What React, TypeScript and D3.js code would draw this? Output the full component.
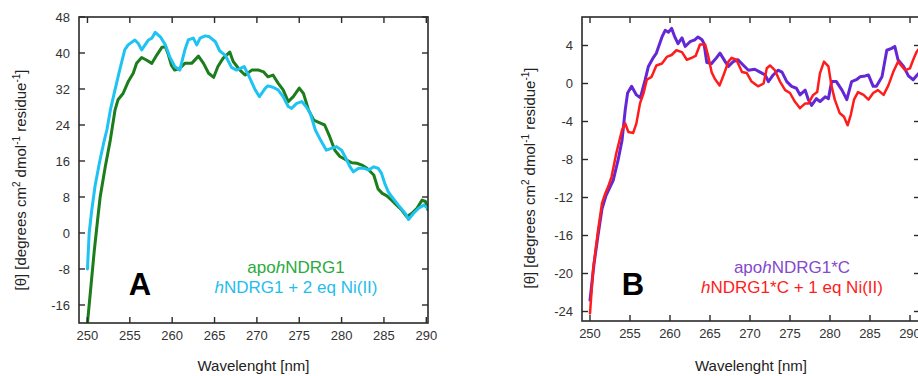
import React from "react";
import * as d3 from "d3";

// ---------- data ----------
const xTicks = [250, 255, 260, 265, 270, 275, 280, 285, 290];
const yTicksA = [48, 40, 32, 24, 16, 8, 0, -8, -16];
const yTicksB = [4, 0, -4, -8, -12, -16, -20, -24];

const apoA: [number, number][] = [
  [250.0, -20], [250.4, -12], [250.8, -4], [251.2, 3], [251.5, 8], [252.1, 14.7], [252.7, 20.7],
  [253.25, 27.3], [253.6, 29.6], [254.2, 31.0], [254.8, 33.6], [255.4, 35.5], [255.8, 37.7],
  [256.4, 39.0], [257.0, 38.4], [257.6, 37.7], [258.2, 39.6], [258.8, 41.3], [259.2, 41.4],
  [259.5, 39.9], [259.9, 37.3], [260.3, 36.2], [260.9, 36.6], [261.5, 37.7], [262.3, 37.7],
  [263.1, 39.3], [263.7, 37.7], [264.3, 35.5], [264.9, 34.6], [265.4, 37.0], [266.0, 38.8],
  [266.8, 40.2], [267.2, 38.1], [268.0, 36.2], [268.6, 35.1], [269.4, 36.2], [270.2, 36.2],
  [270.8, 35.8], [271.3, 34.7], [271.9, 35.1], [272.5, 33.3], [273.1, 31.8], [273.7, 29.2],
  [274.3, 30.3], [275.0, 32.2], [275.5, 31.0], [276.1, 27.3], [276.7, 25.1], [277.5, 24.4],
  [278.0, 24.0], [278.6, 21.4], [279.2, 18.4], [279.8, 17.0], [280.6, 16.2], [281.2, 15.6],
  [281.8, 15.5], [282.4, 15.1], [283.0, 14.4], [283.8, 12.9], [284.3, 9.8], [284.8, 8.8],
  [285.3, 8.3], [285.9, 7.3], [286.5, 6.2], [287.1, 5.1], [287.7, 3.6], [288.3, 4.4],
  [288.9, 5.5], [289.5, 7.3], [289.9, 7.0], [290.2, 5.1],
];

const niA: [number, number][] = [
  [250.0, -8], [250.2, 0], [250.5, 5], [250.9, 10.5], [251.4, 15.5], [251.9, 19.9], [252.3, 23],
  [252.7, 27.3], [253.25, 31.8], [253.8, 36.2], [254.4, 40.7], [254.8, 41.8], [255.6, 42.9],
  [256.0, 42.1], [256.4, 40.7], [256.8, 41.8], [257.2, 42.9], [257.6, 43.3], [258.0, 44.6],
  [258.6, 43.6], [259.2, 41.8], [259.7, 39.2], [260.3, 37.0], [260.9, 36.2], [261.5, 40.7],
  [261.9, 42.9], [262.5, 43.3], [262.9, 41.8], [263.3, 43.3], [263.9, 43.8], [264.4, 43.6],
  [265.1, 42.5], [265.6, 40.5], [266.3, 39.4], [267.0, 36.8], [267.6, 36.2], [268.5, 37.0],
  [269.1, 34.7], [269.8, 31.8], [270.3, 30.3], [271.0, 32.2], [271.3, 32.7], [271.9, 32.4],
  [272.5, 31.8], [273.1, 30.3], [273.7, 28.1], [274.1, 27.7], [274.7, 28.8], [275.3, 29.2],
  [275.8, 28.1], [276.3, 26.6], [276.9, 22.9], [277.5, 20.7], [278.2, 18.4], [278.8, 18.8],
  [279.4, 19.2], [280.0, 18.4], [280.4, 17.0], [281.0, 14.7], [281.4, 13.6], [282.0, 14.4],
  [282.6, 14.4], [283.2, 14.0], [283.8, 14.7], [284.3, 14.4], [284.7, 13.3], [285.1, 11.0],
  [285.5, 9.2], [285.9, 8.1], [286.7, 6.2], [287.5, 4.4], [287.9, 3.0], [288.5, 4.4],
  [289.1, 5.5], [289.7, 6.2], [290.2, 5.5],
];

const apoB: [number, number][] = [
  [250.0, -22.8], [250.5, -19], [251.0, -16], [251.5, -13.2], [252.0, -11.8], [252.5, -10.9],
  [252.9, -10.2], [253.5, -8.1], [254.0, -6.0], [254.4, -2.8], [254.7, -1.0], [255.2, -0.3],
  [255.8, -1.2], [256.3, -1.5], [256.9, 0.4], [257.3, 1.8], [257.9, 2.7], [258.3, 3.2],
  [259.0, 4.9], [259.4, 5.6], [259.8, 5.4], [260.2, 5.8], [260.6, 4.9], [261.0, 4.2],
  [261.5, 4.8], [261.9, 3.9], [262.5, 4.4], [263.1, 4.6], [263.5, 4.9], [264.0, 4.6],
  [264.25, 4.2], [264.6, 2.2], [265.2, 2.1], [265.8, 2.7], [266.25, 3.2], [266.9, 2.3],
  [267.3, 1.8], [267.9, 2.3], [268.5, 2.5], [269.2, 1.9], [269.8, 1.4], [270.6, 1.5],
  [271.25, 1.2], [271.9, 0.9], [272.3, 0.2], [272.9, 0.9], [273.5, 1.4], [274.0, 1.2],
  [274.6, 0.2], [275.2, -0.3], [275.8, -0.5], [276.25, -1.2], [276.9, -0.7], [277.3, -1.7],
  [277.7, -2.3], [278.3, -1.6], [278.75, -1.9], [279.4, -1.4], [279.8, -1.6], [280.2, 0.2],
  [280.8, 0.2], [281.5, -0.7], [282.1, -1.7], [282.7, 0.2], [283.3, 0.4], [283.75, 0.7],
  [284.4, 0.8], [284.8, 0.9], [285.4, -0.3], [285.8, -0.3], [286.5, 0.7], [287.1, 3.5],
  [287.7, 3.7], [288.1, 3.9], [288.5, 2.5], [289.2, 1.8], [289.8, 0.8], [290.4, 0.4],
  [290.9, 0.9], [291.25, 1.2],
];

const niB: [number, number][] = [
  [250.0, -24.2], [250.4, -19.5], [251.0, -15.5], [251.5, -12.6], [251.9, -11.6], [252.3, -10.8],
  [252.7, -9.8], [253.3, -7.3], [254.0, -4.9], [254.4, -4.2], [254.8, -5.1], [255.4, -5.2],
  [255.8, -4.2], [256.25, -2.1], [256.7, -1.0], [257.1, 0.4], [257.7, 0.7], [258.3, 1.9],
  [259.0, 2.1], [259.6, 2.8], [260.2, 3.0], [260.8, 3.5], [261.5, 3.3], [262.1, 2.5],
  [262.7, 2.7], [263.2, 2.9], [263.75, 4.1], [264.4, 4.1], [264.8, 2.8], [265.2, 1.2],
  [265.6, 0.5], [266.2, -0.2], [266.7, 0.9], [267.3, 2.3], [267.7, 2.7], [268.3, 2.5],
  [269.0, 1.2], [269.6, 1.1], [270.2, 0.2], [271.0, -0.3], [271.7, 0.0], [272.1, 1.6],
  [272.5, 1.9], [273.1, 1.4], [273.75, 0.2], [274.4, -0.7], [275.0, -1.0], [275.6, -1.9],
  [276.25, -2.6], [276.9, -2.1], [277.3, -2.1], [277.9, -1.2], [278.4, -0.9], [278.75, 1.1],
  [279.25, 2.3], [279.8, 1.8], [280.2, -0.3], [280.6, -1.7], [281.2, -3.1], [281.75, -3.5],
  [282.2, -4.4], [282.6, -3.3], [283.0, -1.7], [283.5, -0.9], [284.2, -1.2], [284.8, -1.7],
  [285.4, -1.0], [286.0, -0.7], [286.7, -1.2], [287.3, -0.2], [287.9, 1.2], [288.5, 2.3],
  [289.0, 1.8], [289.4, 1.4], [290.0, 1.6], [290.4, 2.5], [290.8, 3.3], [291.25, 3.8],
];

const FONT = "'Liberation Sans', Arial, Helvetica, sans-serif";
const AXIS = "#2a2a2a";

type Series = { data: [number, number][]; color: string; width: number };

type PanelProps = {
  id: string;
  left: number;
  right: number;
  top: number;
  bottom: number;
  xDomain: [number, number];
  yDomain: [number, number];
  yTicks: number[];
  series: Series[];
  yTitleX: number;
  yTitleY: number;
  letter: string;
  letterX: number;
  legendX: number;
  legend1: React.ReactNode;
  legend2: React.ReactNode;
  legendColor1: string;
  legendColor2: string;
};

function Panel(p: PanelProps) {
  const x = d3.scaleLinear().domain(p.xDomain).range([p.left, p.right]);
  const y = d3.scaleLinear().domain(p.yDomain).range([p.bottom, p.top]);
  const line = d3
    .line<[number, number]>()
    .x((d) => x(d[0]))
    .y((d) => y(d[1]));
  const tl = 6;
  const clipId = `clip-${p.id}`;
  return (
    <g>
      <defs>
        <clipPath id={clipId}>
          <rect x={p.left} y={p.top} width={p.right - p.left} height={p.bottom - p.top} />
        </clipPath>
      </defs>
      <g clipPath={`url(#${clipId})`}>
        {p.series.map((s, i) => (
          <path
            key={i}
            d={line(s.data) || ""}
            fill="none"
            stroke={s.color}
            strokeWidth={s.width}
            strokeLinejoin="round"
            strokeLinecap="round"
          />
        ))}
      </g>
      {/* frame */}
      <rect
        x={p.left}
        y={p.top}
        width={p.right - p.left}
        height={p.bottom - p.top}
        fill="none"
        stroke={AXIS}
        strokeWidth={1.6}
      />
      {/* x ticks */}
      {xTicks.map((t) => (
        <g key={`x${t}`}>
          <line x1={x(t)} x2={x(t)} y1={p.bottom} y2={p.bottom - tl} stroke={AXIS} strokeWidth={1.4} />
          <line x1={x(t)} x2={x(t)} y1={p.top} y2={p.top + tl} stroke={AXIS} strokeWidth={1.4} />
          <text
            x={x(t)}
            y={p.bottom + 17}
            textAnchor="middle"
            fontSize={13}
            fontFamily={FONT}
            fill="#333"
          >
            {t}
          </text>
        </g>
      ))}
      {/* y ticks */}
      {p.yTicks.map((t) => (
        <g key={`y${t}`}>
          <line x1={p.left} x2={p.left + tl} y1={y(t)} y2={y(t)} stroke={AXIS} strokeWidth={1.4} />
          <line x1={p.right} x2={p.right - tl} y1={y(t)} y2={y(t)} stroke={AXIS} strokeWidth={1.4} />
          <text
            x={p.left - 9}
            y={y(t) + 4.5}
            textAnchor="end"
            fontSize={13}
            fontFamily={FONT}
            fill="#333"
          >
            {t}
          </text>
        </g>
      ))}
      {/* x title */}
      <text
        x={(p.left + p.right) / 2}
        y={371}
        textAnchor="middle"
        fontSize={15}
        fontFamily={FONT}
        fill="#222"
      >
        Wavelenght [nm]
      </text>
      {/* y title */}
      <text
        transform={`translate(${p.yTitleX},${p.yTitleY}) rotate(-90)`}
        textAnchor="middle"
        fontSize={15}
        fontFamily={FONT}
        fill="#222"
      >
        [θ] [degrees cm
        <tspan fontSize={10} dy={-6}>2</tspan>
        <tspan dy={6}> dmol</tspan>
        <tspan fontSize={10} dy={-6}>-1</tspan>
        <tspan dy={6}> residue</tspan>
        <tspan fontSize={10} dy={-6}>-1</tspan>
        <tspan dy={6}>]</tspan>
      </text>
      {/* letter */}
      <text
        x={p.letterX}
        y={295}
        textAnchor="middle"
        fontSize={31}
        fontWeight="bold"
        fontFamily={FONT}
        fill="#000"
      >
        {p.letter}
      </text>
      {/* legend */}
      <text x={p.legendX} y={272.5} textAnchor="middle" fontSize={17} fontFamily={FONT} fill={p.legendColor1}>
        {p.legend1}
      </text>
      <text x={p.legendX} y={293} textAnchor="middle" fontSize={17} fontFamily={FONT} fill={p.legendColor2}>
        {p.legend2}
      </text>
    </g>
  );
}

export default function App() {
  return (
    <svg
      width={918}
      height={376}
      style={{ position: "absolute", left: 0, top: 0, background: "#fff" }}
    >
      <rect width={918} height={376} fill="#fff" />
      <Panel
        id="A"
        left={79}
        right={428}
        top={17}
        bottom={323}
        xDomain={[249, 290.2]}
        yDomain={[-20, 48]}
        yTicks={yTicksA}
        series={[
          { data: apoA, color: "#1b7d1b", width: 3 },
          { data: niA, color: "#1fc3f3", width: 3 },
        ]}
        yTitleX={26}
        yTitleY={180}
        letter="A"
        letterX={140}
        legendX={296}
        legend1={
          <>
            apo<tspan fontStyle="italic">h</tspan>NDRG1
          </>
        }
        legend2={
          <>
            <tspan fontStyle="italic">h</tspan>NDRG1 + 2 eq Ni(II)
          </>
        }
        legendColor1="#2aaa3f"
        legendColor2="#1fbdf0"
      />
      <Panel
        id="B"
        left={582}
        right={920}
        top={17}
        bottom={321}
        xDomain={[249, 291.25]}
        yDomain={[-25, 7]}
        yTicks={yTicksB}
        series={[
          { data: apoB, color: "#6427d6", width: 3 },
          { data: niB, color: "#ff1c1c", width: 2.5 },
        ]}
        yTitleX={535}
        yTitleY={178}
        letter="B"
        letterX={633}
        legendX={792}
        legend1={
          <>
            apo<tspan fontStyle="italic">h</tspan>NDRG1*C
          </>
        }
        legend2={
          <>
            <tspan fontStyle="italic">h</tspan>NDRG1*C + 1 eq Ni(II)
          </>
        }
        legendColor1="#8549cc"
        legendColor2="#ff1c1c"
      />
    </svg>
  );
}
